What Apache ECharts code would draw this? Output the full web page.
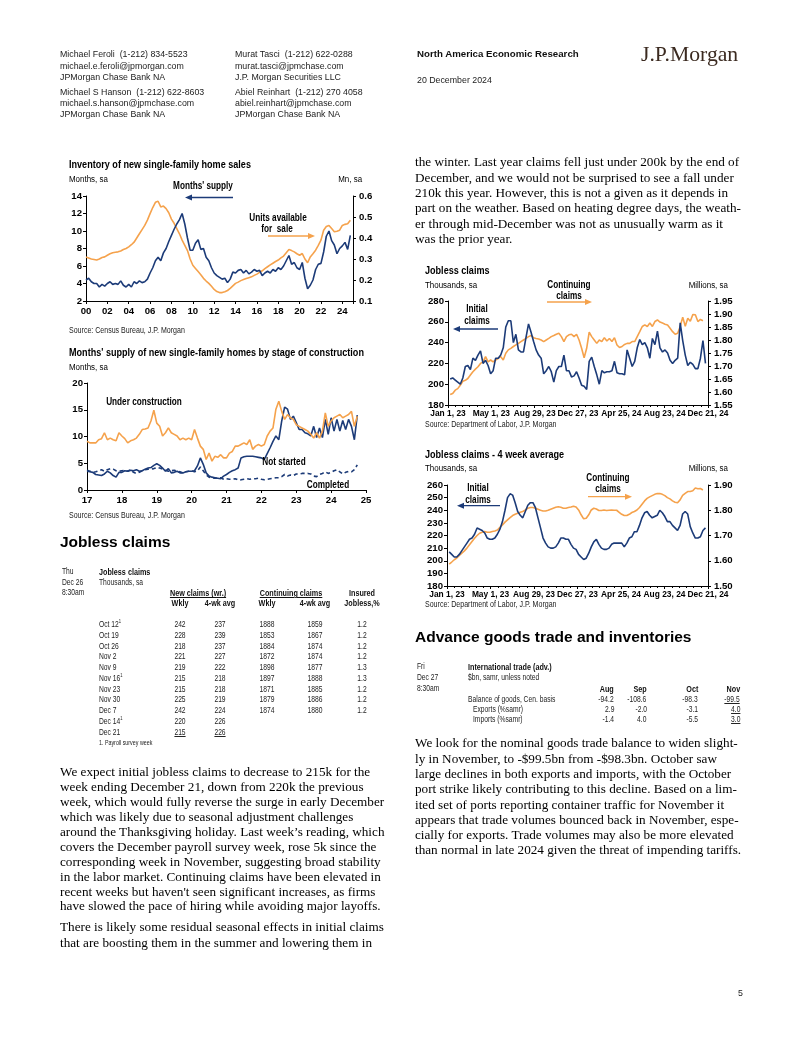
<!DOCTYPE html>
<html><head><meta charset="utf-8">
<script src="https://cdn.jsdelivr.net/npm/echarts@6/dist/echarts.min.js"></script>
<style>
html,body{margin:0;padding:0;background:#fff;}
body{width:802px;height:1037px;position:relative;overflow:hidden;font-family:'Liberation Sans',Arial,sans-serif;color:#000;}
#chart{position:absolute;left:0;top:0;width:802px;height:1037px;}
.t{position:absolute;white-space:nowrap;}
.hd{font-size:8.8px;color:#222;}
.hdb{font-size:9.7px;font-weight:bold;color:#111;}
.logo{font-family:'Liberation Serif','Times New Roman',serif;font-size:21.7px;color:#3b2a20;}
.ct{font-size:10.8px;font-weight:bold;}
.cu{font-size:9.7px;}
.cs{font-size:8.6px;color:#222;}
.ca{font-size:10px;font-weight:bold;}
.h2{font-size:15.5px;font-weight:bold;}
.tb{font-size:8.2px;color:#222;}
.tbb{font-size:8.6px;font-weight:bold;color:#111;}
.fn{font-size:6.5px;color:#222;}
.u{text-decoration:underline;}
.body{font-family:'Liberation Serif','Times New Roman',serif;font-size:13.2px;}
sup{font-size:5px;vertical-align:4px;line-height:0;}
</style></head><body>
<div id="chart"></div>
<div id="txt"></div>
<script>
// ---------------- DATA ----------------
// Chart 1: quarterly, 2000Q1 .. 2024Q4
const c1Start = 2000;
const monthsSupply = [
 4.4,4.6,4.2,4.0, 4.0,3.6,3.9,3.7, 4.0,4.2,3.9,4.0, 3.9,4.3,3.8,3.6, 3.9,3.6,4.2,4.0,
 4.3,4.1,4.2,4.5, 5.2,5.8,6.6,7.0, 6.6,7.5,8.0,8.8, 9.5,10.2,10.8,11.3, 12.0,10.8,9.2,7.8,
 7.8,8.6,9.0,7.9, 8.0,7.0,6.6,5.8, 5.2,4.9,4.7,4.5, 4.6,4.1,4.5,5.3, 5.2,5.5,5.6,5.2,
 5.5,5.1,5.3,5.6, 5.4,5.5,4.9,5.2, 5.4,5.2,5.6,5.4, 5.8,5.6,6.0,6.6, 7.2,6.2,6.4,5.8,
 5.6,6.4,4.6,3.4, 3.8,4.4,5.6,6.2, 6.3,7.6,9.4,10.0, 8.9,8.4,7.4,8.0, 8.3,8.7,7.9,9.5];
const unitsForSale = [
 0.310,0.305,0.300,0.298, 0.295,0.300,0.307,0.310, 0.318,0.325,0.330,0.332, 0.334,0.338,0.345,0.350, 0.358,0.368,0.380,0.400,
 0.420,0.440,0.460,0.485, 0.516,0.545,0.570,0.575, 0.548,0.552,0.540,0.520, 0.490,0.470,0.445,0.420, 0.390,0.365,0.340,0.300,
 0.270,0.255,0.240,0.225, 0.208,0.195,0.184,0.170, 0.155,0.145,0.140,0.140, 0.144,0.150,0.160,0.172, 0.184,0.190,0.197,0.202,
 0.207,0.211,0.215,0.222, 0.228,0.236,0.244,0.254, 0.263,0.272,0.280,0.288, 0.295,0.305,0.314,0.330, 0.345,0.340,0.334,0.325,
 0.318,0.326,0.300,0.282, 0.310,0.325,0.342,0.365, 0.390,0.437,0.455,0.460, 0.445,0.430,0.432,0.437, 0.460,0.465,0.468,0.485];
const c1XTicks = ['00','02','04','06','08','10','12','14','16','18','20','22','24'];

// Chart 2: monthly, Jan 2017 .. Oct 2024
const c2Start = 2017;
const underConstruction = [
 9.1,8.8,8.8,8.8,9.4,9.6,10.7,9.4,9.7,9.4,9.2,10.7,
 10.1,9.6,8.8,9.2,9.4,9.7,10.4,11.3,11.4,11.6,12.9,14.9,
 12.5,11.9,10.1,10.7,11.6,10.7,10.4,10.1,9.4,9.7,9.4,9.7,
 9.4,11.3,9.7,8.2,7.6,5.7,6.9,5.4,6.3,6.1,6.6,6.0,
 6.0,6.9,7.2,8.2,8.2,8.5,8.8,8.5,9.4,7.6,8.2,8.5,
 8.2,8.5,10.1,11.0,11.6,15.1,16.6,14.7,13.2,14.1,13.5,13.2,
 12.2,11.9,11.6,11.3,11.0,10.4,9.7,10.7,9.7,11.0,14.4,11.9,
 12.9,13.5,13.8,14.1,13.5,13.8,14.1,14.7,11.9,13.8];
const notStarted = [
 3.5,3.4,3.3,2.9,2.8,2.7,3.0,3.5,3.2,2.7,2.4,3.3,
 3.3,3.6,3.5,3.7,3.6,3.8,3.5,3.6,3.9,4.1,4.2,4.6,
 4.9,4.6,4.1,3.5,4.0,3.2,3.3,3.5,3.2,3.2,3.4,3.5,
 3.5,3.6,4.5,6.0,4.8,3.2,2.6,2.4,2.3,2.2,2.1,2.6,
 2.9,3.3,3.6,3.8,4.1,6.0,6.2,6.3,6.3,6.3,6.2,6.1,
 6.0,5.7,6.8,7.9,9.1,10.1,9.4,12.9,15.5,15.1,13.2,13.8,
 12.6,11.3,11.3,10.7,10.5,10.1,11.9,9.8,11.6,9.8,13.2,10.4,
 13.5,11.0,13.2,11.0,13.0,11.3,13.2,11.9,9.4,14.0];
const completed = [
 3.7,3.5,3.3,3.4,3.6,3.8,3.5,3.8,4.0,3.9,3.6,3.5,
 3.6,3.7,3.5,3.8,3.3,3.1,3.3,3.6,3.8,3.9,3.9,4.0,
 4.2,4.1,3.9,3.7,3.5,3.6,3.7,3.5,3.4,3.2,3.4,3.5,
 3.6,3.4,3.6,4.3,3.6,2.8,2.4,2.3,2.2,2.2,2.3,2.0,
 2.1,2.0,2.0,2.1,1.9,1.9,2.0,2.1,2.0,2.1,2.1,2.2,
 2.0,1.9,2.0,2.1,2.2,2.3,2.3,2.5,2.9,2.6,2.8,2.7,
 3.0,3.0,3.1,3.1,3.1,3.0,2.6,2.5,2.9,3.1,3.4,3.1,
 3.3,3.6,3.8,3.4,3.0,3.3,3.5,3.4,3.8,4.7];

// Jobless claims table (weeks ending Oct 12 .. Dec 21, 2024)
const tableWeeks = ['Oct 12','Oct 19','Oct 26','Nov 2','Nov 9','Nov 16','Nov 23','Nov 30','Dec 7','Dec 14','Dec 21'];
const payrollWeeks = [true,false,false,false,false,true,false,false,false,true,false];
const tableInitial = [242,228,218,221,219,215,215,225,242,220,215];
const tableInitial4wk = [237,239,237,227,222,218,218,219,224,226,226];
const tableCont = [1888,1853,1884,1872,1898,1897,1871,1879,1874];
const tableCont4wk = [1859,1867,1874,1874,1877,1888,1885,1886,1880];
const tableInsured = ['1.2','1.2','1.2','1.2','1.3','1.3','1.2','1.2','1.2'];

// Weekly chart series, weeks ending Jan 7, 2023 .. (weeks before Oct 12, 2024)
const initialEarly = [
 205,206,204,202,200,206,217,218,214,225, 223,228,232,220,223,218,210,213,225,225,
 228,235,255,261,261,240,248,233,231,231, 245,258,250,241,233,228,225,210,213,217,
 212,202,213,217,217,228,213,213,207,208, 212,206,199,198,195,222,226,217,209,200,
 213,211,212,212,213,222,211,210,210,209, 233,225,217,222,235,243,238,240,235,225,
 244,238,251,235,231,233,230,223,220,223, 225,259];
const continuingEarly = [
 1.590,1.594,1.607,1.613,1.626,1.641,1.645,1.652,1.665,1.678,
 1.688,1.697,1.710,1.716,1.736,1.716,1.723,1.716,1.723,1.729,
 1.736,1.723,1.749,1.762,1.768,1.775,1.781,1.787,1.794,1.800,
 1.806,1.813,1.817,1.809,1.806,1.804,1.800,1.794,1.800,1.806,
 1.813,1.817,1.822,1.826,1.813,1.794,1.813,1.820,1.822,1.813,
 1.822,1.800,1.768,1.732,1.768,1.830,1.813,1.800,1.787,1.800,
 1.794,1.809,1.796,1.806,1.794,1.809,1.781,1.771,1.775,1.783,
 1.787,1.787,1.794,1.794,1.813,1.832,1.852,1.858,1.852,1.865,
 1.852,1.871,1.877,1.869,1.865,1.861,1.858,1.845,1.832,1.822,
 1.826,1.852];
const initial4wkEarly = [
 207,205,203,203,205,208,211,214,217,218, 221,226,225,224,222,218,217,217,218,221,
 225,231,240,250,253,252,246,239,236,234, 239,244,246,246,242,234,226,218,214,211,
 210,210,211,214,218,218,217,217,213,210, 209,205,203,201,202,206,211,215,217,213,
 210,209,209,210,213,214,214,214,214,211, 214,218,219,223,223,228,234,238,239,236,
 234,235,236,240,238,235,231,231,228,226, 224,228];
const continuing4wkEarly = [
 1.587,1.595,1.604,1.611,1.621,1.630,1.639,1.650,1.663,1.676,
 1.689,1.700,1.709,1.713,1.716,1.713,1.713,1.716,1.718,1.722,
 1.732,1.742,1.753,1.762,1.771,1.779,1.784,1.788,1.792,1.795,
 1.801,1.808,1.811,1.811,1.808,1.804,1.800,1.797,1.797,1.800,
 1.804,1.808,1.812,1.814,1.812,1.808,1.808,1.811,1.813,1.816,
 1.813,1.801,1.782,1.766,1.768,1.782,1.801,1.808,1.805,1.799,
 1.799,1.801,1.799,1.800,1.801,1.800,1.800,1.792,1.784,1.779,
 1.779,1.784,1.791,1.795,1.801,1.811,1.824,1.837,1.847,1.853,
 1.858,1.863,1.866,1.866,1.863,1.858,1.850,1.845,1.837,1.832,
 1.830,1.841];
const weeklyXTicks = ['Jan 1, 23','May 1, 23','Aug 29, 23','Dec 27, 23','Apr 25, 24','Aug 23, 24','Dec 21, 24'];

// Trade table
const tradeMonths = ['Aug','Sep','Oct','Nov'];
const tradeBalance = ['-94.2','-108.6','-98.3','-99.5'];
const tradeExports = ['2.9','-2.0','-3.1','4.0'];
const tradeImports = ['-1.4','4.0','-5.5','3.0'];

// ---------------- CHARTS ----------------
const FONT = "'Liberation Sans',Arial,sans-serif";
const BLUE = '#1c3b78', ORANGE = '#f5a24c';
const tableWeeksInChart = 10; // Dec 21 is the forecast week
const initialAll = initialEarly.concat(tableInitial.slice(0, tableWeeksInChart));
const initial4wkAll = initial4wkEarly.concat(tableInitial4wk.slice(0, tableWeeksInChart));
const contAll = continuingEarly.concat(tableCont.map(v => v / 1000));
const cont4wkAll = continuing4wkEarly.concat(tableCont4wk.map(v => v / 1000));
const wk = (arr) => arr.map((v, i) => [6 + 7 * i, v]); // day offset from Jan 1, 2023 (Saturdays)

function xAx(gi, min, max, interval, fmt, fs, extra) {
  return Object.assign({
    type: 'value', gridIndex: gi, min, max, interval,
    axisLine: { show: true, onZero: false, lineStyle: { color: '#000', width: 1 } },
    axisTick: { show: true, length: 3, lineStyle: { color: '#000' } },
    splitLine: { show: false },
    axisLabel: { color: '#000', fontFamily: FONT, fontWeight: 'bold', fontSize: fs, margin: 5, formatter: fmt, showMaxLabel: true, showMinLabel: true, hideOverlap: false }
  }, extra || {});
}
function yAx(gi, min, max, interval, pos, fmt) {
  return {
    type: 'value', gridIndex: gi, min, max, interval, position: pos,
    axisLine: { show: true, lineStyle: { color: '#000', width: 1 } },
    axisTick: { show: true, length: 3, lineStyle: { color: '#000' } },
    splitLine: { show: false },
    axisLabel: { color: '#000', fontFamily: FONT, fontWeight: 'bold', fontSize: 9.6, margin: pos === 'left' ? 4 : 6, formatter: fmt }
  };
}
function line(name, xi, yi, data, color, extra) {
  return Object.assign({
    name, type: 'line', xAxisIndex: xi, yAxisIndex: yi, data, showSymbol: false, symbol: 'none',
    lineStyle: { color, width: 1.6 }, itemStyle: { color }, animation: false, silent: true
  }, extra || {});
}
function arrow(x1, y, x2, color) {
  const d = x2 > x1 ? 1 : -1;
  return [
    { type: 'line', shape: { x1, y1: y, x2: x2 - d * 5, y2: y }, style: { stroke: color, lineWidth: 1.3 }, silent: true },
    { type: 'polygon', shape: { points: [[x2, y], [x2 - d * 7, y - 3], [x2 - d * 7, y + 3]] }, style: { fill: color }, silent: true }
  ];
}
const minor = { minorTick: { show: true, splitNumber: 6, length: 2, lineStyle: { color: '#000' } } };

const option = {
  animation: false,
  grid: [
    { left: 86, top: 196, width: 267, height: 105, outerBoundsMode: 'none' },
    { left: 87, top: 383, width: 279, height: 107, outerBoundsMode: 'none' },
    { left: 448, top: 301, width: 260, height: 104, outerBoundsMode: 'none' },
    { left: 447, top: 485, width: 261, height: 101, outerBoundsMode: 'none' }
  ],
  xAxis: [
    xAx(0, 2000, 2025, 2, v => (v % 2 === 0 ? c1XTicks[(v - 2000) / 2] : ''), 9.6),
    xAx(1, 2017, 2025, 1, v => String(v).slice(2), 9.6),
    xAx(2, 0, 720, 120, v => weeklyXTicks[Math.round(v / 120)] || '', 8.4, minor),
    xAx(3, 0, 720, 120, v => weeklyXTicks[Math.round(v / 120)] || '', 8.4, minor)
  ],
  yAxis: [
    yAx(0, 2, 14, 2, 'left', v => String(v)),
    yAx(0, 0.1, 0.6, 0.1, 'right', v => v.toFixed(1)),
    yAx(1, 0, 20, 5, 'left', v => String(v)),
    yAx(2, 180, 280, 20, 'left', v => String(v)),
    yAx(2, 1.55, 1.95, 0.05, 'right', v => v.toFixed(2)),
    yAx(3, 180, 260, 10, 'left', v => String(v)),
    yAx(3, 1.5, 1.9, 0.1, 'right', v => v.toFixed(2))
  ],
  series: [
    line('Units available for sale', 0, 1, unitsForSale.map((v, i) => [c1Start + i / 4, v]), ORANGE),
    line("Months' supply", 0, 0, monthsSupply.map((v, i) => [c1Start + i / 4, v]), BLUE),
    line('Not started', 1, 2, notStarted.map((v, i) => [c2Start + i / 12, v]), BLUE),
    line('Under construction', 1, 2, underConstruction.map((v, i) => [c2Start + i / 12, v]), ORANGE),
    line('Completed', 1, 2, completed.map((v, i) => [c2Start + i / 12, v]), BLUE, { lineStyle: { color: BLUE, width: 1.6, type: [4, 3] } }),
    line('Continuing claims', 2, 4, wk(contAll), ORANGE),
    line('Initial claims', 2, 3, wk(initialAll), BLUE),
    line('Continuing claims 4wk', 3, 6, wk(cont4wkAll), ORANGE),
    line('Initial claims 4wk', 3, 5, wk(initial4wkAll), BLUE)
  ],
  graphic: [].concat(
    arrow(233, 197.5, 185, BLUE), arrow(268, 236, 315, ORANGE),
    arrow(547, 302, 592, ORANGE), arrow(498, 329, 453, BLUE),
    arrow(500, 505.7, 457, BLUE), arrow(588, 496.7, 632, ORANGE)
  )
};
const chart = echarts.init(document.getElementById('chart'), null, { renderer: 'canvas' });
chart.setOption(option);

// ---------------- TEXT ----------------
const box = document.getElementById('txt');
// horizontal condensing of Liberation Sans to imitate Arial Narrow
const SX = { ct: 0.84, cu: 0.82, cs: 0.82, ca: 0.82, tb: 0.82, tbb: 0.84, fn: 0.82 };
function T(x, y, html, cls, align, lh) {
  lh = lh || 12;
  const d = document.createElement('div');
  d.className = 't ' + (cls || '');
  d.style.lineHeight = lh + 'px';
  d.style.top = (y - lh / 2) + 'px';
  const s = SX[cls] || 1;
  const sc = s !== 1 ? ' scaleX(' + s + ')' : '';
  if (align === 'c') { d.style.left = x + 'px'; d.style.transformOrigin = 'center center'; d.style.transform = 'translateX(-50%)' + sc; }
  else if (align === 'r') { d.style.right = (802 - x) + 'px'; d.style.transformOrigin = 'right center'; if (sc) d.style.transform = sc; }
  else { d.style.left = x + 'px'; d.style.transformOrigin = 'left center'; if (sc) d.style.transform = sc; }
  d.innerHTML = html;
  box.appendChild(d);
}
// header
[['Michael Feroli&nbsp; (1-212) 834-5523', 'Murat Tasci&nbsp; (1-212) 622-0288'],
 ['michael.e.feroli@jpmorgan.com', 'murat.tasci@jpmchase.com'],
 ['JPMorgan Chase Bank NA', 'J.P. Morgan Securities LLC'],
 ['Michael S Hanson&nbsp; (1-212) 622-8603', 'Abiel Reinhart&nbsp; (1-212) 270 4058'],
 ['michael.s.hanson@jpmchase.com', 'abiel.reinhart@jpmchase.com'],
 ['JPMorgan Chase Bank NA', 'JPMorgan Chase Bank NA']].forEach((r, i) => {
  const y = [54, 65.7, 76.7, 91.7, 102.7, 114][i];
  T(60, y, r[0], 'hd'); T(235, y, r[1], 'hd');
});
T(417, 54, 'North America Economic Research', 'hdb');
T(417, 80, '20 December 2024', 'hd');
T(641, 54, 'J.P.Morgan', 'logo', 'l', 24);

// chart 1
T(69, 164, 'Inventory of new single-family home sales', 'ct');
T(69, 179, 'Months, sa', 'cu');
T(362, 179, 'Mn, sa', 'cu', 'r');
T(203, 186, "Months' supply", 'ca', 'c');
T(278, 217.7, 'Units available', 'ca', 'c');
T(277, 229, 'for&nbsp; sale', 'ca', 'c');
T(69, 330, 'Source: Census Bureau, J.P. Morgan', 'cs');
// chart 2
T(69, 351.7, "Months' supply of new single-family homes by stage of construction", 'ct');
T(69, 366.7, 'Months, sa', 'cu');
T(144, 401.7, 'Under construction', 'ca', 'c');
T(284, 461.7, 'Not started', 'ca', 'c');
T(328, 485, 'Completed', 'ca', 'c');
T(69, 515, 'Source: Census Bureau, J.P. Morgan', 'cs');
// chart 3
T(425, 270, 'Jobless claims', 'ct');
T(425, 285, 'Thousands, sa', 'cu');
T(728, 285, 'Millions, sa', 'cu', 'r');
T(569, 285, 'Continuing', 'ca', 'c');
T(569, 296, 'claims', 'ca', 'c');
T(477, 309.3, 'Initial', 'ca', 'c');
T(477, 320.7, 'claims', 'ca', 'c');
T(425, 424.3, 'Source: Department of Labor, J.P. Morgan', 'cs');
// chart 4
T(425, 454, 'Jobless claims - 4 week average', 'ct');
T(425, 467.7, 'Thousands, sa', 'cu');
T(728, 467.7, 'Millions, sa', 'cu', 'r');
T(608, 477.7, 'Continuing', 'ca', 'c');
T(608, 489, 'claims', 'ca', 'c');
T(478, 488.3, 'Initial', 'ca', 'c');
T(478, 500, 'claims', 'ca', 'c');
T(425, 604.3, 'Source: Department of Labor, J.P. Morgan', 'cs');

// section headings
T(60, 542, 'Jobless claims', 'h2', 'l', 18);
T(415, 637, 'Advance goods trade and inventories', 'h2', 'l', 18);

// jobless claims table
T(61.7, 571.7, 'Thu', 'tb'); T(61.7, 582.7, 'Dec 26', 'tb'); T(61.7, 593.3, '8:30am', 'tb');
T(99.3, 572.3, 'Jobless claims', 'tbb');
T(99.3, 583.3, 'Thousands, sa', 'tb');
T(198.3, 593.3, '<span class="u">New claims (wr.)</span>', 'tbb', 'c');
T(291, 593.3, '<span class="u">Continuing claims</span>', 'tbb', 'c');
T(361.7, 593.3, 'Insured', 'tbb', 'c');
[[180, 'Wkly'], [220, '4-wk avg'], [266.7, 'Wkly'], [315, '4-wk avg'], [361.7, 'Jobless,%']].forEach(h => T(h[0], 603.3, h[1], 'tbb', 'c'));
tableWeeks.forEach((w, i) => {
  const y = 625 + 10.77 * i;
  const last = i === tableWeeks.length - 1;
  T(99.3, y, w + (payrollWeeks[i] ? '<sup>1</sup>' : ''), 'tb');
  T(180, y, last ? '<span class="u">' + tableInitial[i] + '</span>' : tableInitial[i], 'tb', 'c');
  T(220, y, last ? '<span class="u">' + tableInitial4wk[i] + '</span>' : tableInitial4wk[i], 'tb', 'c');
  if (i < tableCont.length) {
    T(266.7, y, tableCont[i], 'tb', 'c');
    T(315, y, tableCont4wk[i], 'tb', 'c');
    T(361.7, y, tableInsured[i], 'tb', 'c');
  }
});
T(99.3, 743.3, '1. Payroll survey week', 'fn');

// trade table
T(417.3, 667.3, 'Fri', 'tb'); T(417.3, 678.3, 'Dec 27', 'tb'); T(417.3, 689, '8:30am', 'tb');
T(468.3, 667.3, 'International trade (adv.)', 'tbb');
T(468.3, 678.3, '$bn, samr, unless noted', 'tb');
const tradeX = [614, 646.7, 698, 740];
tradeMonths.forEach((m, i) => T(tradeX[i], 689, m, 'tbb', 'r'));
T(468.3, 700, 'Balance of goods, Cen. basis', 'tb');
T(472.7, 710, 'Exports (%samr)', 'tb');
T(472.7, 720, 'Imports (%samr)', 'tb');
[[tradeBalance, 700], [tradeExports, 710], [tradeImports, 720]].forEach(r => {
  r[0].forEach((v, i) => T(tradeX[i], r[1], i === 3 ? '<span class="u">' + v + '</span>' : v, 'tb', 'r'));
});

// body text
const LH = 15.3;
const leftP1 = [
 'We expect initial jobless claims to decrease to 215k for the',
 'week ending December 21, down from 220k the previous',
 'week, which would fully reverse the surge in early December',
 'which was likely due to seasonal adjustment challenges',
 'around the Thanksgiving holiday. Last week’s reading, which',
 'covers the December payroll survey week, rose 5k since the',
 'corresponding week in November, suggesting broad stability',
 'in the labor market. Continuing claims have been elevated in',
 "recent weeks but haven't seen significant increases, as firms",
 'have slowed the pace of hiring while avoiding major layoffs.'];
leftP1.forEach((s, i) => T(60, 772 + 14.9 * i, s, 'body', 'l', LH));
const leftP2 = [
 'There is likely some residual seasonal effects in initial claims',
 'that are boosting them in the summer and lowering them in'];
leftP2.forEach((s, i) => T(60, 927 + LH * i, s, 'body', 'l', LH));
const rightP1 = [
 'the winter. Last year claims fell just under 200k by the end of',
 'December, and we would not be surprised to see a fall under',
 '210k this year. However, this is not a given as it depends in',
 'part on the weather. Based on heating degree days, the weath-',
 'er through mid-December was not as unusually warm as it',
 'was the prior year.'];
rightP1.forEach((s, i) => T(415, 162 + LH * i, s, 'body', 'l', LH));
const rightP2 = [
 'We look for the nominal goods trade balance to widen slight-',
 'ly in November, to -$99.5bn from -$98.3bn. October saw',
 'large declines in both exports and imports, with the October',
 'port strike likely contributing to this decline. Based on a lim-',
 'ited set of ports reporting container traffic for November it',
 'appears that trade volumes bounced back in November, espe-',
 'cially for exports. Trade volumes may also be more elevated',
 'than normal in late 2024 given the threat of impending tariffs.'];
rightP2.forEach((s, i) => T(415, 743 + LH * i, s, 'body', 'l', LH));
T(738, 993, '5', 'hd', 'l', 12);
</script>
</body></html>
